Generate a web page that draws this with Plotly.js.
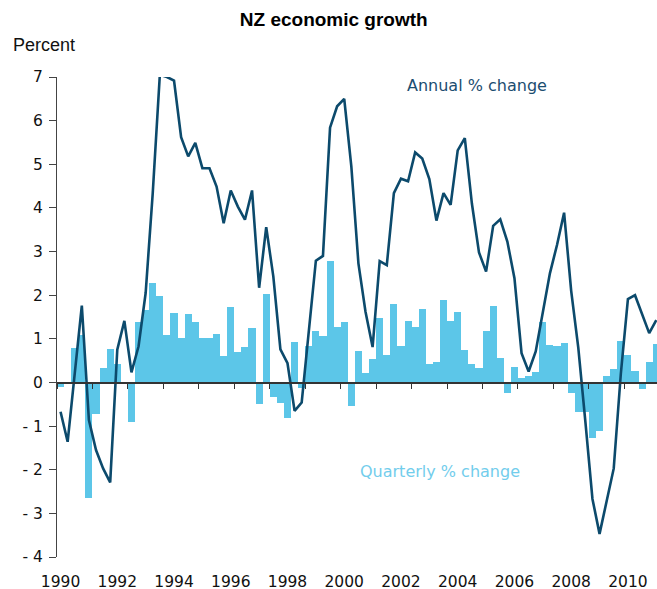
<!DOCTYPE html>
<html>
<head>
<meta charset="utf-8">
<script src="https://cdn.plot.ly/plotly-3.0.1.min.js"></script>
<style>
  html, body { margin: 0; padding: 0; background: #ffffff; }
  #chart { width: 657px; height: 589px; }
</style>
</head>
<body>
<div id="chart"></div>
<script>
// Quarterly data, 1990 Q1 onwards
const firstYear = 1990;

// Quarterly % change (bars)
const quarterlyChange = [
  -0.10, 0.00, 0.80, 1.09, -2.65, -0.73, 0.32, 0.77, 0.42, 0.00,
  -0.91, 1.38, 1.65, 2.28, 1.99, 1.09, 1.59, 1.02, 1.57, 1.38,
  1.02, 1.02, 1.11, 0.61, 1.73, 0.70, 0.81, 1.25, -0.49, 2.03,
  -0.34, -0.46, -0.82, 0.93, -0.13, 0.84, 1.19, 1.06, 2.78, 1.28,
  1.38, -0.55, 0.72, 0.21, 0.54, 1.48, 0.63, 1.80, 0.84, 1.40,
  1.26, 1.68, 0.43, 0.48, 1.89, 1.41, 1.61, 0.75, 0.43, 0.33,
  1.19, 1.76, 0.56, -0.24, 0.35, 0.10, 0.15, 0.23, 1.38, 0.86,
  0.83, 0.90, -0.24, -0.67, -0.67, -1.28, -1.12, 0.15, 0.31, 0.96,
  0.63, 0.27, -0.15, 0.48, 0.89
];

// Annual % change (line)
const annualChange = [
  -0.67, -1.36, 0.20, 1.76, -0.86, -1.55, -1.97, -2.29, 0.75, 1.41,
  0.23, 0.83, 2.05, 4.34, 7.05, 7.00, 6.92, 5.62, 5.18, 5.49,
  4.91, 4.91, 4.49, 3.65, 4.40, 4.03, 3.73, 4.40, 2.17, 3.56,
  2.43, 0.76, 0.44, -0.65, -0.46, 1.10, 2.79, 2.90, 5.84, 6.33,
  6.50, 4.95, 2.73, 1.62, 0.81, 2.78, 2.69, 4.34, 4.67, 4.61,
  5.27, 5.13, 4.66, 3.71, 4.34, 4.07, 5.32, 5.60, 4.10, 2.98,
  2.54, 3.59, 3.74, 3.23, 2.39, 0.67, 0.25, 0.71, 1.62, 2.50,
  3.15, 3.89, 2.10, 0.80, -0.90, -2.67, -3.47, -2.70, -1.97, 0.20,
  1.91, 2.00, 1.55, 1.13, 1.43
];

// Axis tick labels
const yearTicks = [1990, 1992, 1994, 1996, 1998, 2000, 2002, 2004, 2006, 2008, 2010];
const yearTickText = ['1990', '1992', '1994', '1996', '1998', '2000', '2002', '2004', '2006', '2008', '2010'];
const yTicks = [-4, -3, -2, -1, 0, 1, 2, 3, 4, 5, 6, 7];
const yTickText = ['- 4', '- 3', '- 2', '- 1', '0', '1', '2', '3', '4', '5', '6', '7'];

const quarterX = quarterlyChange.map((_, i) => firstYear + i / 4);

const barColor = '#5cc6e8';
const lineColor = '#0c4a6c';
const tickFont = { family: 'DejaVu Sans, Verdana, sans-serif', size: 15.5, color: '#111111' };
const xRange = [1989.875, 2011.025];

const traces = [
  {
    type: 'bar',
    x: quarterX,
    y: quarterlyChange,
    xaxis: 'x',
    yaxis: 'y',
    marker: { color: barColor, line: { width: 0 } },
    hoverinfo: 'x+y',
    name: 'Quarterly % change'
  },
  {
    type: 'scatter',
    mode: 'lines',
    x: quarterX,
    y: annualChange,
    xaxis: 'x2',
    yaxis: 'y',
    line: { color: lineColor, width: 2.6 },
    name: 'Annual % change'
  }
];

const layout = {
  width: 657,
  height: 589,
  margin: { l: 57, r: 0, t: 77, b: 32, pad: 0 },
  paper_bgcolor: '#ffffff',
  plot_bgcolor: '#ffffff',
  showlegend: false,
  bargap: 0,
  title: {
    text: '<b>NZ economic growth</b>',
    font: { family: 'Liberation Sans, Arial, sans-serif', size: 19, color: '#000000' },
    x: 0.508, xref: 'container', xanchor: 'center',
    y: 1 - 19 / 589, yref: 'container', yanchor: 'middle'
  },
  xaxis: {
    range: xRange,
    tickmode: 'array',
    tickvals: yearTicks,
    ticktext: yearTickText,
    ticks: '',
    showline: false,
    showgrid: false,
    zeroline: false,
    tickfont: tickFont,
    ticklabelstandoff: 13,
    fixedrange: true
  },
  xaxis2: {
    overlaying: 'x',
    anchor: 'free',
    position: 4 / 11,
    side: 'bottom',
    range: xRange,
    tickmode: 'linear',
    tick0: 1991.125,
    dtick: 1.25,
    ticks: 'outside',
    ticklen: 5,
    tickwidth: 1,
    tickcolor: '#333333',
    showticklabels: false,
    showline: true,
    linecolor: '#333333',
    linewidth: 1.2,
    showgrid: false,
    zeroline: false,
    layer: 'above traces'
  },
  yaxis: {
    range: [-4, 7],
    tickmode: 'array',
    tickvals: yTicks,
    ticktext: yTickText,
    ticks: 'outside',
    ticklen: 7,
    tickwidth: 1,
    tickcolor: '#444444',
    showline: true,
    linecolor: '#444444',
    linewidth: 1,
    showgrid: false,
    zeroline: false,
    tickfont: tickFont,
    ticklabelstandoff: 3,
    fixedrange: true
  },
  annotations: [
    {
      text: 'Percent',
      xref: 'paper', yref: 'paper',
      x: -46 / 600, y: (557 - 45) / 480,
      xanchor: 'left', yanchor: 'middle',
      showarrow: false,
      font: { family: 'Liberation Sans, Arial, sans-serif', size: 18, color: '#111111' }
    },
    {
      text: 'Annual % change',
      xref: 'x', yref: 'y',
      x: 2004.67, y: 6.8,
      xanchor: 'center', yanchor: 'middle',
      showarrow: false,
      font: { family: 'DejaVu Sans, Verdana, sans-serif', size: 16, color: '#1b4d70' }
    },
    {
      text: 'Quarterly % change',
      xref: 'x', yref: 'y',
      x: 2003.37, y: -2.03,
      xanchor: 'center', yanchor: 'middle',
      showarrow: false,
      font: { family: 'DejaVu Sans, Verdana, sans-serif', size: 16, color: '#72cdec' }
    }
  ]
};

Plotly.newPlot('chart', traces, layout, { displayModeBar: false, staticPlot: true });
</script>
</body>
</html>
